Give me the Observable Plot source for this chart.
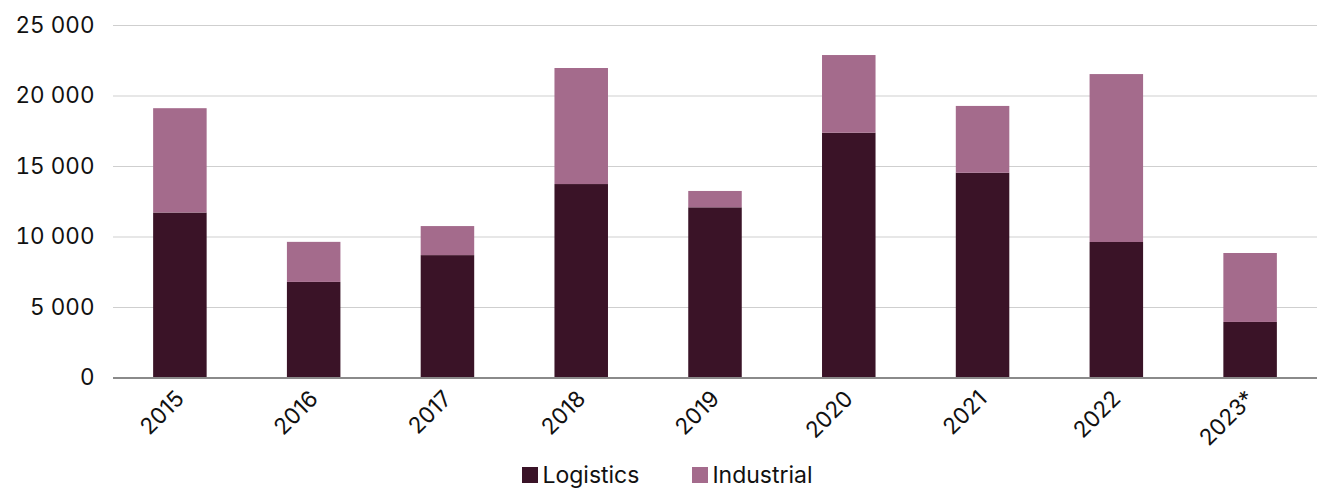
<!DOCTYPE html>
<html><head><meta charset="utf-8">
<script src="https://cdn.jsdelivr.net/npm/d3@7"></script>
<script src="https://cdn.jsdelivr.net/npm/@observablehq/plot@0.6"></script>
<style>
body{margin:0;background:#fff;font-family:Inter,"Noto Sans",sans-serif;}
#legend{display:flex;justify-content:center;align-items:center;gap:53px;font-size:23px;color:#111;height:34px;padding-left:10px;}
#legend span.item{display:flex;align-items:center;gap:4px;}
#legend span.sw{display:inline-block;width:16px;height:16px;}
</style></head>
<body>
<div id="chart"></div>
<div id="legend"></div>
<script>
const years = ["2015","2016","2017","2018","2019","2020","2021","2022","2023*"];
const logistics = [11700, 6780, 8680, 13720, 12070, 17360, 14520, 9610, 3940];
const industrial = [7400, 2840, 2060, 8230, 1160, 5510, 4740, 11910, 4890];
const series = ["Logistics","Industrial"];
const colors = ["#3a1327","#a46b8c"];
const yTicks = [0,5000,10000,15000,20000,25000];

const data = [];
years.forEach((y,i)=>{
  data.push({year:y, type:"Logistics", value:logistics[i]});
  data.push({year:y, type:"Industrial", value:industrial[i]});
});
const fmt = d => d3.format(",")(d).replace(/,/g," ");

const plot = Plot.plot({
  width:1325, height:458,
  marginLeft:113, marginRight:8, marginTop:25, marginBottom:80.5,
  style:{fontFamily:"Inter, 'Noto Sans', sans-serif", fontSize:"22.5px", color:"#111"},
  x:{domain:years, paddingInner:0.6, paddingOuter:0.3, round:false, label:null},
  y:{domain:[0,25000], ticks:yTicks, label:null, tickFormat:fmt},
  color:{domain:series, range:colors},
  marks:[
    Plot.gridY(yTicks, {stroke:"#cfcfcf", strokeOpacity:1, strokeWidth:1.2}),
    Plot.barY(data, Plot.stackY({x:"year", y:"value", fill:"type", order:series})),
    Plot.ruleY([0], {stroke:"#8a8a8a", strokeWidth:2}),
    Plot.axisY({ticks:yTicks, tickSize:0, tickPadding:19, tickFormat:fmt, fontSize:22.5}),
    Plot.axisX({tickSize:0, tickPadding:17, tickRotate:-45, fontSize:22.5})
  ]
});
document.getElementById("chart").appendChild(plot);
const lg = document.getElementById("legend");
series.forEach((s,i)=>{
  const it = document.createElement("span"); it.className="item";
  it.innerHTML = `<span class="sw" style="background:${colors[i]}"></span>${s}`;
  lg.appendChild(it);
});
</script>
</body></html>
